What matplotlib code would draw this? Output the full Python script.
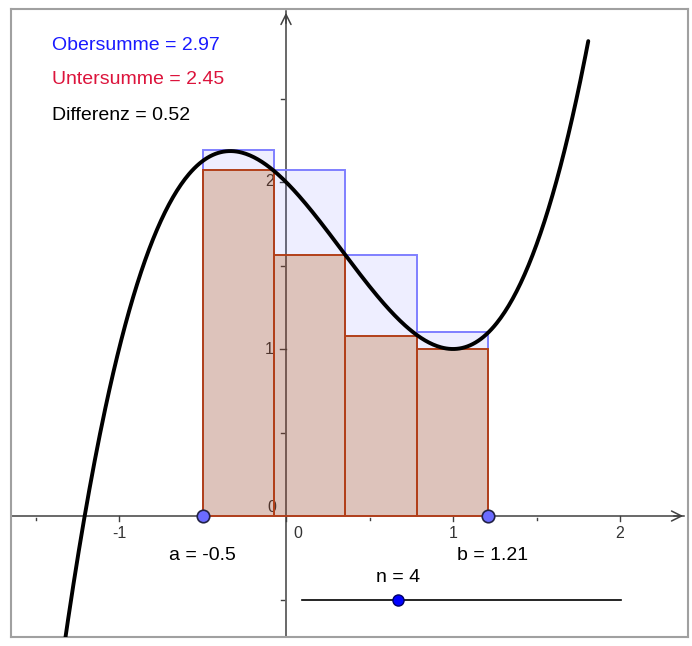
import numpy as np
import matplotlib.pyplot as plt
from matplotlib.patches import Rectangle

plt.rcParams['font.family'] = ['Liberation Sans', 'DejaVu Sans']

# f(x) = x^3 - x^2 - x + 2
coeffs = [1, -1, -1, 2]
a = -0.5
b = 1.21
n = 4
upper_heights = [2.19, 2.07, 1.56, 1.10]
lower_heights = [2.07, 1.56, 1.08, 1.00]
obersumme = 2.97
untersumme = 2.45
x_ticks = [-1, 0, 1, 2]
y_ticks = [1, 2]
n_min, n_max = 1, 11

W, H = 692, 646
fig = plt.figure(figsize=(W / 100, H / 100), dpi=100)
ax = fig.add_axes([11 / W, 9 / H, 677 / W, 628 / H])
px = 1 / 167.0  # one pixel in data units
ax.set_xlim(-275 * px, 402 * px)
ax.set_ylim(-121 * px, 507 * px)
ax.set_xticks([])
ax.set_yticks([])
for s in ax.spines.values():
    s.set_color('#a0a0a0')
    s.set_linewidth(1.5)

axis_col = '#404040'
# axes with open arrow heads
ax.plot([-275 * px, 398 * px], [0, 0], color=axis_col, lw=1.1, zorder=1)
ax.plot([0, 0], [-121 * px, 505 * px], color=axis_col, lw=1.1, zorder=1)
ax.annotate('', xy=(400 * px, 0), xytext=(385 * px, 0),
            arrowprops=dict(arrowstyle='->', color=axis_col, lw=1.1,
                            mutation_scale=18), zorder=1)
ax.annotate('', xy=(0, 506 * px), xytext=(0, 490 * px),
            arrowprops=dict(arrowstyle='->', color=axis_col, lw=1.1,
                            mutation_scale=18), zorder=1)

# ticks
for t in x_ticks:
    ax.plot([t, t], [0, -5 * px], color=axis_col, lw=1, zorder=1)
for t in np.arange(-1.5, 2.5, 1.0):
    ax.plot([t, t], [-2 * px, -4 * px], color=axis_col, lw=1, zorder=1)
for t in y_ticks:
    ax.plot([0, -6 * px], [t, t], color=axis_col, lw=1, zorder=1)
for t in [-0.5, 0.5, 1.5, 2.5]:
    ax.plot([-2 * px, -5 * px], [t, t], color=axis_col, lw=1, zorder=1)

lab_col = '#333333'
for t in x_ticks:
    xx = t + (12 * px if t == 0 else 0)
    ax.text(xx, -17 * px, str(t), ha='center', va='center', fontsize=11.5,
            color=lab_col, zorder=1)
for t in y_ticks:
    ax.text(-12 * px, t, str(t), ha='right', va='center', fontsize=11.5,
            color=lab_col, zorder=1)
ax.text(-10 * px, 9 * px, '0', ha='right', va='center', fontsize=11.5,
        color=lab_col, zorder=1)

# rectangles: upper fill only above the lower rectangle, outline full
width = (b - a) / n
for i in range(n):
    x0 = a + i * width
    ax.add_patch(Rectangle((x0, lower_heights[i]), width,
                           upper_heights[i] - lower_heights[i],
                           facecolor=(0.4, 0.4, 1.0, 0.11),
                           edgecolor='none', zorder=2))
    ax.add_patch(Rectangle((x0, 0), width, upper_heights[i],
                           facecolor='none', edgecolor='#7f7fff', lw=1.4,
                           zorder=2))
for i in range(n):
    x0 = a + i * width
    ax.add_patch(Rectangle((x0, 0), width, lower_heights[i],
                           facecolor=(145 / 255, 58 / 255, 32 / 255, 0.3),
                           edgecolor='#b2401a', lw=1.4, zorder=3))

# function graph
xs = np.linspace(-1.36, 1.81, 400)
ax.plot(xs, np.polyval(coeffs, xs), color='black', lw=2.8, zorder=4,
        solid_capstyle='round')

# interval end points
ax.plot([a, b], [0, 0], 'o', ms=9, mfc='#6b6bff', mec='#222244', mew=1.2,
        zorder=5)
ax.text(a, -40 * px, f'a = {a}', ha='center', va='center',
        fontsize=14, color='black')
ax.text(b + 4 * px, -40 * px, f'b = {b}', ha='center', va='center',
        fontsize=14, color='black')

# slider for n
s0, s1 = 16 * px, 335 * px
ax.plot([s0, s1], [-0.5, -0.5], color='black', lw=1.2, zorder=4)
sx = s0 + (n - n_min) / (n_max - n_min) * (s1 - s0)
ax.plot([sx], [-0.5], 'o', ms=8, mfc='#0000ff', mec='#000066', mew=1,
        zorder=5)
ax.text(sx, -61 * px, f'n = {n}', ha='center', va='center',
        fontsize=14, color='black')

# sums
ax.text(-234 * px, 471 * px, f'Obersumme = {obersumme:.2f}', ha='left',
        va='center', fontsize=14, color='#1a1aff')
ax.text(-234 * px, 437 * px, f'Untersumme = {untersumme:.2f}', ha='left',
        va='center', fontsize=14, color='#dc143c')
ax.text(-234 * px, 400 * px, f'Differenz = {obersumme - untersumme:.2f}',
        ha='left', va='center', fontsize=14, color='black')

fig.savefig('out.png', dpi=100)
